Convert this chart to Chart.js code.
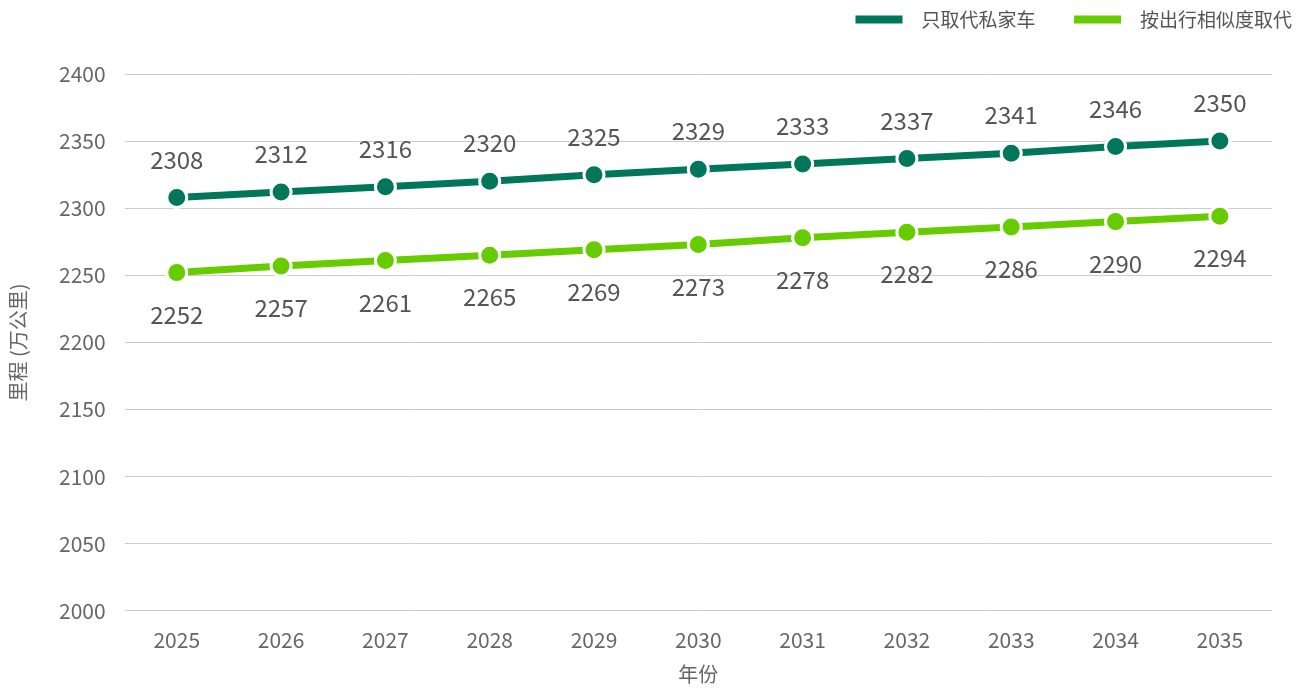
<!DOCTYPE html>
<html>
<head>
<meta charset="utf-8">
<script src="https://cdn.jsdelivr.net/npm/chart.js@4/dist/chart.umd.min.js"></script>
<style>
  html, body { margin: 0; padding: 0; background: #fff; }
  #wrap { width: 1308px; height: 691px; }
</style>
</head>
<body>
<div id="wrap"><canvas id="chart"></canvas></div>
<script>
// data
const years = ['2025', '2026', '2027', '2028', '2029', '2030', '2031', '2032', '2033', '2034', '2035'];
const privateCar = [2308, 2312, 2316, 2320, 2325, 2329, 2333, 2337, 2341, 2346, 2350];
const similarTrips = [2252, 2257, 2261, 2265, 2269, 2273, 2278, 2282, 2286, 2290, 2294];

const FONT = '"Noto Sans CJK SC", "Noto Sans", sans-serif';
const DARK = '#00775a';
const LIGHT = '#66cc00';

// simple value labels, above for the first series, below for the second
const valueLabels = {
    id: 'valueLabels',
    afterDatasetsDraw(chart) {
        const ctx = chart.ctx;
        ctx.save();
        ctx.font = '24px ' + FONT;
        ctx.fillStyle = '#555';
        ctx.textAlign = 'center';
        ctx.textBaseline = 'middle';
        chart.data.datasets.forEach((ds, i) => {
            const meta = chart.getDatasetMeta(i);
            meta.data.forEach((pt, j) => {
                const dy = i === 0 ? -38 : 42;
                ctx.fillText(String(ds.data[j]), pt.x, pt.y + dy);
            });
        });
        ctx.restore();
    }
};

// extra room under the legend
const legendSpacing = {
    id: 'legendSpacing',
    beforeInit(chart) {
        const fit = chart.legend.fit;
        chart.legend.fit = function () {
            fit.call(this);
            this.height += 35;
        };
    }
};

new Chart(document.getElementById('chart'), {
    type: 'line',
    data: {
        labels: years,
        datasets: [{
            label: '只取代私家车',
            data: privateCar,
            borderColor: DARK,
            backgroundColor: DARK,
            borderWidth: 7,
            pointRadius: 10,
            pointBorderWidth: 3,
            pointBorderColor: '#fff',
            pointBackgroundColor: DARK,
            tension: 0
        }, {
            label: '按出行相似度取代',
            data: similarTrips,
            borderColor: LIGHT,
            backgroundColor: LIGHT,
            borderWidth: 7,
            pointRadius: 10,
            pointBorderWidth: 3,
            pointBorderColor: '#fff',
            pointBackgroundColor: LIGHT,
            tension: 0
        }]
    },
    options: {
        responsive: true,
        maintainAspectRatio: false,
        animation: false,
        layout: { padding: { left: 4, right: 6, top: 0, bottom: 5 } },
        plugins: {
            legend: {
                position: 'top',
                align: 'end',
                labels: {
                    boxWidth: 47,
                    boxHeight: 8,
                    useBorderRadius: true,
                    borderRadius: 4,
                    padding: 10,
                    color: '#555',
                    font: { family: FONT, size: 19 },
                    generateLabels(chart) {
                        return chart.data.datasets.map((ds, i) => ({
                            // en space before, wider gap after the first item
                            text: '\u2002' + ds.label + (i === 0 ? '\u3000\u2002' : ''),
                            fillStyle: ds.borderColor,
                            strokeStyle: ds.borderColor,
                            lineWidth: 0,
                            fontColor: '#555',
                            datasetIndex: i
                        }));
                    }
                }
            },
            tooltip: { enabled: false }
        },
        scales: {
            x: {
                offset: true,
                grid: { display: false },
                border: { display: false },
                ticks: { color: '#666', font: { family: FONT, size: 21 }, padding: 9 },
                title: { display: true, text: '年份', color: '#666', font: { family: FONT, size: 20 }, padding: { top: 0, bottom: 0 } }
            },
            y: {
                min: 2000,
                max: 2400,
                grid: { color: '#cccccc', drawTicks: false },
                border: { display: false },
                ticks: {
                    stepSize: 50,
                    color: '#666',
                    font: { family: FONT, size: 21 },
                    padding: 19,
                    callback: v => String(v)
                },
                title: { display: true, text: '里程 (万公里)', color: '#666', font: { family: FONT, size: 20 }, padding: { top: 2, bottom: 10 } }
            },
            // empty right axis, only to keep the plot clear of the right edge
            yRight: {
                position: 'right',
                display: true,
                grid: { display: false, drawTicks: false },
                border: { display: false },
                ticks: { display: false },
                afterFit(scale) { scale.width = 30; }
            }
        }
    },
    plugins: [valueLabels, legendSpacing]
});
</script>
</body>
</html>
